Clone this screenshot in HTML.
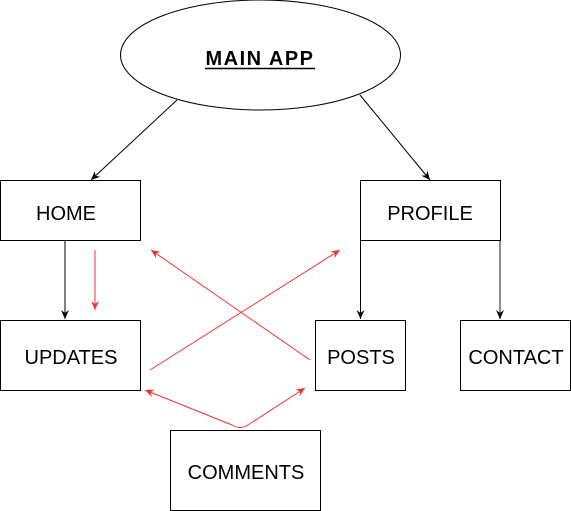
<!DOCTYPE html>
<html><head><meta charset="utf-8"><style>
html,body{margin:0;padding:0;background:#fff;}
svg{display:block;}
text{font-family:"Liberation Sans",sans-serif;font-size:20px;fill:#000;text-anchor:middle;}
</style></head><body>
<svg width="571" height="511" viewBox="0 0 571 511" xmlns="http://www.w3.org/2000/svg">
<defs>
<marker id="ab" markerWidth="10" markerHeight="10" refX="9" refY="5" orient="auto" markerUnits="userSpaceOnUse"><path d="M0,1 L9,5 L0,9 L3,5 Z" fill="#000"/></marker>
<marker id="ar" markerWidth="10" markerHeight="10" refX="9" refY="5" orient="auto" markerUnits="userSpaceOnUse"><path d="M0,1 L9,5 L0,9 L3,5 Z" fill="#e33"/></marker>
</defs>
<ellipse cx="260.5" cy="55" rx="140" ry="55" fill="#fff" stroke="#000" stroke-width="1"/>
<text x="260" y="65" style="font-weight:bold;font-size:20px;letter-spacing:1.5px">MAIN APP</text>
<line x1="205" y1="68.5" x2="315" y2="68.5" stroke="#000" stroke-width="1.5"/>
<line x1="177" y1="100" x2="91" y2="180" stroke="#000" marker-end="url(#ab)"/>
<line x1="360" y1="95" x2="430" y2="180" stroke="#000" marker-end="url(#ab)"/>
<rect x="0.5" y="180.5" width="140" height="60" fill="#fff" stroke="#000"/>
<text x="66" y="220">HOME</text>
<rect x="360.5" y="180.5" width="140" height="60" fill="#fff" stroke="#000"/>
<text x="430" y="220">PROFILE</text>
<line x1="65" y1="241" x2="65" y2="319" stroke="#000" marker-end="url(#ab)"/>
<line x1="95" y1="250" x2="95" y2="310" stroke="#e33" marker-end="url(#ar)"/>
<line x1="360.5" y1="241" x2="360.5" y2="319" stroke="#000" marker-end="url(#ab)"/>
<line x1="500" y1="241" x2="500" y2="319" stroke="#666" stroke-width="1.5" marker-end="url(#ab)"/>
<rect x="0.5" y="320.5" width="140" height="70" fill="#fff" stroke="#000"/>
<text x="71" y="364">UPDATES</text>
<rect x="315.5" y="320.5" width="90" height="70" fill="#fff" stroke="#000"/>
<text x="361" y="364">POSTS</text>
<rect x="460.5" y="320.5" width="110" height="70" fill="#fff" stroke="#000"/>
<text x="516" y="364">CONTACT</text>
<rect x="170.5" y="430.5" width="150" height="80" fill="#fff" stroke="#000"/>
<text x="246" y="479">COMMENTS</text>
<line x1="310" y1="360" x2="151" y2="250" stroke="#e33" marker-end="url(#ar)"/>
<line x1="150" y1="370" x2="340" y2="250" stroke="#e33" marker-end="url(#ar)"/>
<path d="M232,425 Q240,430 248,425" fill="none" stroke="#e33"/>
<line x1="232" y1="425" x2="145" y2="390" stroke="#e33" marker-end="url(#ar)"/>
<line x1="248" y1="425" x2="305" y2="388" stroke="#e33" marker-end="url(#ar)"/>
</svg>
</body></html>
